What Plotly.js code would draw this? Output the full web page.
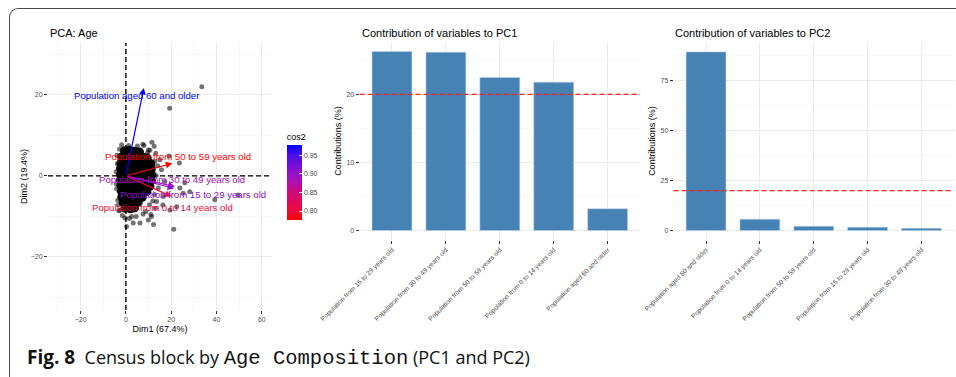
<!DOCTYPE html>
<html>
<head>
<meta charset="utf-8">
<script src="https://cdn.plot.ly/plotly-3.0.1.min.js"></script>
<style>
  html, body { margin: 0; padding: 0; background: #fff; }
  #wrap { position: relative; width: 956px; height: 377px; overflow: hidden; }
  #chart { position: absolute; left: 0; top: 0; width: 956px; height: 377px; }
  #frame { position: absolute; left: 9px; top: 8px; width: 980px; height: 400px;
           border-top: 1.3px solid #4a4a4a; border-left: 1.3px solid #4a4a4a;
           border-top-left-radius: 9px; pointer-events: none; box-sizing: border-box; }
</style>
</head>
<body>
<div id="wrap">
  <div id="chart"></div>
  <div id="frame"></div>
</div>
<script>
// ---------------- DATA ----------------
// PCA variables (arrows)
const pcaVars = ["Population aged 60 and older", "Population from 50 to 59 years old",
                 "Population from 30 to 49 years old", "Population from 15 to 29 years old",
                 "Population from 0 to 14 years old"];
const varDim1 = [7.9, 20.5, 21.6, 21.3, 20.2];
const varDim2 = [21.7, 3.1, -2.6, -3.1, -5.1];
const varCos2 = [0.977, 0.776, 0.885, 0.905, 0.800];
// label positions (repelled text)
const labelX = [4.9, 23.0, 20.3, 29.6, 16.0];
const labelY = [19.8, 4.9, -1.0, -4.5, -7.8];

// individuals: dense core of the cloud
const coreX = [-0.6, 1.6, 3.8, 6,
               -1.8, 0.4, 2.8, 5.2, 7.6, 9.4,
               -2.2, 0.4, 2.8, 5.2, 7.6, 10, 11,
               -2.4, 0.2, 2.6, 5, 7.4, 9.8, 11.2,
               -2.4, 0.2, 2.6, 5, 7.4, 9.8, 11.4,
               -2.4, 0.2, 2.6, 5, 7.4, 9.8, 11.2,
               -2.2, 0.2, 2.6, 5, 7.4, 9.8, 10.6,
               -2, 0.4, 2.8, 5.2, 7.6, 9.2,
               -1.8, 0.4, 2.8, 5.2, 7.2,
               -1.2, 1, 3.4, 5.4,
               -0.2, 2, 3.8];
const coreY = [6.2, 6.3, 6.1, 5.9,
               4.7, 4.7, 4.7, 4.7, 4.6, 4.4,
               3.2, 3.2, 3.2, 3.2, 3.2, 3.2, 3.0,
               1.8, 1.8, 1.8, 1.8, 1.8, 1.8, 1.7,
               0.4, 0.4, 0.4, 0.4, 0.4, 0.4, 0.3,
               -1, -1, -1, -1, -1, -1, -1.1,
               -2.4, -2.4, -2.4, -2.4, -2.4, -2.4, -2.6,
               -3.8, -3.8, -3.8, -3.8, -3.8, -3.9,
               -5.2, -5.2, -5.2, -5.2, -5.3,
               -6.6, -6.6, -6.6, -6.5,
               -8, -8.1, -7.9];
// individuals: scattered points around the cloud
const indX = [33.5, 19.3, 11.5, -1.9, 9.9, 13.2, 15, 19.1, 23.6, 25.3, 28.2, 39.2, 49.5,
              21.1, 3.2, 6.2, 9.9, 11.3, 12.2, 19.4, 22.4, 16.3, 2.5, -0.4, 0.3, 15.7,
              17.2, 14.3, 16.5, 13.5, 23.8, 26, -3.8, -4.2, -3.6, 12.5, 14, 8, -2.5, 13,
              11, 4.5, 1.5, 7.5,
              -3.9, -4.3, -4.1, -3.4, 10.6, 12.8, 13.3, 12.6, 10.4, 7.6, -1.6, 1.2, 5.1,
              -2.8, 8.8, 11.9, 9.6, -3.2];
const indY = [22, 16.7, 8.3, 7.7, 6.4, 5.6, 4, 4.9, 3.2, -4.3, -3.9, -5.9, -4.7,
              -13.2, -11.6, -11.6, -10.9, -10, -12, -8.4, -7.6, -7.2, -10, -10.4, -12.5, 1.5,
              -1.4, -3, -5.1, -6.3, -3, -1.7, 3, -2, -6, 7.3, 2.5, 7.5, -8.5, -8,
              -9.5, -10, -10.5, 7.8,
              5.1, 1.0, -3.2, -7.2, 6.3, 3.6, 0.1, -4.6, -7.1, -9.4, -9.8, 7.5, 7.4,
              6.6, -8.8, -6.2, 5.7, -8.6];

// contributions
const pc1Cats = ["Population from 15 to 29 years old", "Population from 30 to 49 years old",
                 "Population from 50 to 59 years old", "Population from 0 to 14 years old",
                 "Population aged 60 and older"];
const pc1Vals = [26.3, 26.2, 22.5, 21.8, 3.2];
const pc2Cats = ["Population aged 60 and older", "Population from 0 to 14 years old",
                 "Population from 50 to 59 years old", "Population from 15 to 29 years old",
                 "Population from 30 to 49 years old"];
const pc2Vals = [89.4, 5.7, 2.1, 1.7, 1.1];

// ---------------- STYLE / HELPERS ----------------
const W = 956, H = 377;
const px = v => v / W;
const py = v => 1 - v / H;
const FONT = "Liberation Sans, Arial, sans-serif";
const TICKC = "#4D4D4D";
const GRID = "#EBEBEB";

const cscale = [[0, "#FF0000"], [0.12, "#F0083C"], [0.37, "#D0087A"], [0.5, "#B010B0"],
                [0.62, "#9410C8"], [0.87, "#4A0EEA"], [1, "#0000FF"]];
const cmin = Math.min(...varCos2), cmax = Math.max(...varCos2);
function hex2rgb(h) { return [1, 3, 5].map(i => parseInt(h.substr(i, 2), 16)); }
function colorFor(v) {
  const t = (v - cmin) / (cmax - cmin);
  for (let i = 1; i < cscale.length; i++) {
    if (t <= cscale[i][0] + 1e-9) {
      const a = cscale[i - 1], b = cscale[i];
      const f = (t - a[0]) / (b[0] - a[0]);
      const ca = hex2rgb(a[1]), cb = hex2rgb(b[1]);
      const c = ca.map((x, k) => Math.round(x + (cb[k] - x) * f));
      return "rgb(" + c.join(",") + ")";
    }
  }
  return cscale[cscale.length - 1][1];
}

// ---------------- TRACES ----------------
const traces = [
  { type: "scatter", mode: "markers", x: indX, y: indY, xaxis: "x", yaxis: "y",
    marker: { color: "rgba(0,0,0,0.55)", size: 5 }, hoverinfo: "skip", showlegend: false },
  { type: "scatter", mode: "markers", x: coreX, y: coreY, xaxis: "x", yaxis: "y",
    marker: { color: "#000", size: 9 }, hoverinfo: "skip", showlegend: false },
  // colour scale carrier (variables' cos2)
  { type: "scatter", mode: "markers", x: varDim1, y: varDim2, xaxis: "x", yaxis: "y",
    marker: { color: varCos2, colorscale: cscale, cmin: cmin, cmax: cmax, size: 1, opacity: 0,
      showscale: true,
      colorbar: { x: px(286.7), xanchor: "left", y: py(130), yanchor: "top",
        thickness: 15, thicknessmode: "pixels", len: 90, lenmode: "pixels",
        outlinewidth: 0, tickvals: [0.80, 0.85, 0.90, 0.95], ticktext: ["0.80", "0.85", "0.90", "0.95"],
        ticks: "inside", ticklen: 3, tickcolor: "#fff", tickwidth: 1,
        tickfont: { family: FONT, size: 7, color: TICKC },
        title: { text: "cos2", side: "top", font: { family: FONT, size: 9, color: "#000" } },
        xpad: 0, ypad: 0 } },
    hoverinfo: "skip", showlegend: false },
  { type: "bar", x: pc1Cats, y: pc1Vals, xaxis: "x2", yaxis: "y2", width: 0.74,
    marker: { color: "#4682B4", line: { color: "rgba(190,210,235,0.9)", width: 0.6 } },
    showlegend: false },
  { type: "bar", x: pc2Cats, y: pc2Vals, xaxis: "x3", yaxis: "y3", width: 0.74,
    marker: { color: "#4682B4", line: { color: "rgba(190,210,235,0.9)", width: 0.6 } },
    showlegend: false }
];

// ---------------- ANNOTATIONS ----------------
const ann = [];
pcaVars.forEach((name, i) => {
  const col = colorFor(varCos2[i]);
  ann.push({ xref: "x", yref: "y", axref: "x", ayref: "y", x: varDim1[i], y: varDim2[i],
             ax: 0, ay: 0, text: "", showarrow: true, arrowhead: 2, arrowsize: 1.1,
             arrowwidth: 1.2, arrowcolor: col, standoff: 0 });
});
pcaVars.forEach((name, i) => {
  const col = colorFor(varCos2[i]);
  ann.push({ xref: "x", yref: "y", x: labelX[i], y: labelY[i], text: name, showarrow: false,
             xanchor: "center", yanchor: "middle", font: { family: FONT, size: 9.6, color: col } });
});
// panel titles
ann.push({ xref: "paper", yref: "paper", x: px(48), y: py(32.5), xanchor: "left", yanchor: "middle",
           text: "PCA: Age", showarrow: false, font: { family: FONT, size: 11, color: "#000" } });
ann.push({ xref: "paper", yref: "paper", x: px(360), y: py(32.5), xanchor: "left", yanchor: "middle",
           text: "Contribution of variables to PC1", showarrow: false, font: { family: FONT, size: 11, color: "#000" } });
ann.push({ xref: "paper", yref: "paper", x: px(673), y: py(32.5), xanchor: "left", yanchor: "middle",
           text: "Contribution of variables to PC2", showarrow: false, font: { family: FONT, size: 11, color: "#000" } });
// figure caption
ann.push({ xref: "paper", yref: "paper", x: px(25), y: py(357), xanchor: "left", yanchor: "middle",
           showarrow: false, font: { family: "Open Sans, Noto Sans, sans-serif", size: 18, color: "#111" },
           text: "<span style='font-size:19px'><b>Fig. 8</b></span>&nbsp; Census block by <span style='font-family:Liberation Mono, DejaVu Sans Mono, monospace;font-size:20.5px'>Age&nbsp;Composition</span> (PC1 and PC2)" });

// ---------------- SHAPES ----------------
const expected = 100 / pc1Cats.length;
const shapes = [
  { type: "line", xref: "x", yref: "y domain", x0: 0, x1: 0, y0: 0, y1: 1,
    line: { color: "#000", width: 1.4, dash: "5px,3px" }, layer: "above" },
  { type: "line", xref: "x domain", yref: "y", x0: 0, x1: 1, y0: 0, y1: 0,
    line: { color: "#000", width: 1.4, dash: "5px,3px" }, layer: "above" },
  { type: "line", xref: "x2 domain", yref: "y2", x0: 0, x1: 1, y0: expected, y1: expected,
    line: { color: "#FF2020", width: 1.2, dash: "5px,3px" }, layer: "above" },
  { type: "line", xref: "x3 domain", yref: "y3", x0: 0, x1: 1, y0: expected, y1: expected,
    line: { color: "#FF2020", width: 1.2, dash: "5px,3px" }, layer: "above" }
];

// ---------------- AXES ----------------
function baseAxis(extra) {
  return Object.assign({
    showline: false, zeroline: false, showgrid: true, gridcolor: GRID, gridwidth: 1,
    ticks: "outside", ticklen: 3, tickwidth: 1, tickcolor: "#333",
    tickfont: { family: FONT, size: 7, color: TICKC }, automargin: false, fixedrange: true
  }, extra);
}
const yDom = [py(239.5), py(42.7)];
const layout = {
  width: W, height: H, margin: { l: 0, r: 0, t: 0, b: 0 },
  paper_bgcolor: "#fff", plot_bgcolor: "#fff", showlegend: false, bargap: 0,
  xaxis: baseAxis({ domain: [px(48), px(272)], range: [-34.4, 64.5], tick0: 0, dtick: 20,
    minor: { tick0: 0, dtick: 10, showgrid: true, gridcolor: "#F3F3F3", gridwidth: 0.6, ticks: "" },
    title: { text: "Dim1 (67.4%)", standoff: 3, font: { family: FONT, size: 9, color: "#000" } },
    anchor: "y" }),
  yaxis: baseAxis({ domain: [py(310), py(43)], range: [-33.1, 32.8], tick0: 0, dtick: 20,
    minor: { tick0: 0, dtick: 10, showgrid: true, gridcolor: "#F3F3F3", gridwidth: 0.6, ticks: "" },
    title: { text: "Dim2 (19.4%)", standoff: 1, font: { family: FONT, size: 9, color: "#000" } },
    anchor: "x" }),
  xaxis2: baseAxis({ domain: [px(359.6), px(640)], type: "category", range: [-0.6, 4.6],
    tickangle: -45, tickfont: { family: FONT, size: 6.6, color: TICKC }, anchor: "y2" }),
  yaxis2: baseAxis({ domain: yDom, range: [-1.32, 27.6], tick0: 0, dtick: 10,
    minor: { tick0: 0, dtick: 5, showgrid: true, gridcolor: "#F3F3F3", gridwidth: 0.6, ticks: "" },
    title: { text: "Contributions (%)", standoff: 3, font: { family: FONT, size: 9, color: "#000" } },
    anchor: "x2" }),
  xaxis3: baseAxis({ domain: [px(673.7), px(953.8)], type: "category", range: [-0.6, 4.6],
    tickangle: -45, tickfont: { family: FONT, size: 6.6, color: TICKC }, anchor: "y3" }),
  yaxis3: baseAxis({ domain: yDom, range: [-4.47, 94], tick0: 0, dtick: 25,
    minor: { tick0: 0, dtick: 12.5, showgrid: true, gridcolor: "#F3F3F3", gridwidth: 0.6, ticks: "" },
    title: { text: "Contributions (%)", standoff: 3, font: { family: FONT, size: 9, color: "#000" } },
    anchor: "x3" }),
  annotations: ann,
  shapes: shapes
};

Plotly.newPlot("chart", traces, layout, { staticPlot: true, displayModeBar: false });
</script>
</body>
</html>
